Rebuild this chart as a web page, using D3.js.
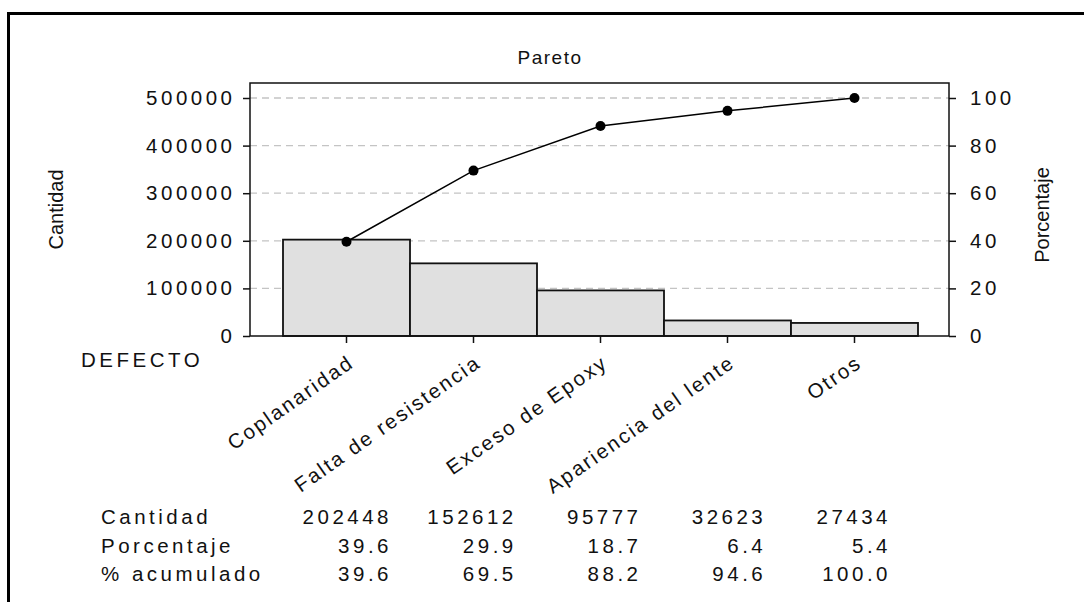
<!DOCTYPE html>
<html><head><meta charset="utf-8">
<script src="https://cdn.jsdelivr.net/npm/d3@7"></script>
<style>
body{margin:0;background:#fff;overflow:hidden;}
text{font-family:"Liberation Sans",Arial,sans-serif;fill:#111;}
</style></head><body>
<svg id="c" width="1084" height="602"></svg>
<script>
const title = "Pareto";
const categories = ["Coplanaridad","Falta de resistencia","Exceso de Epoxy","Apariencia del lente","Otros"];
const counts = [202448,152612,95777,32623,27434];
const percents = [39.6,29.9,18.7,6.4,5.4];
const cumPercents = [39.6,69.5,88.2,94.6,100.0];
const countTicks = [0,100000,200000,300000,400000,500000];
const pctTicks = [0,20,40,60,80,100];
const tableRows = ["Cantidad","Porcentaje","% acumulado"];
const xTitle = "DEFECTO";
const yLeftTitle = "Cantidad";
const yRightTitle = "Porcentaje";

const svg = d3.select("#c");
const L = 250, R = 949, T = 83, B = 336;
const LS = 3.5, FS = 20.5;

// frame
svg.append("path").attr("d","M8.5,610V13.5H1090").attr("fill","none").attr("stroke","#000").attr("stroke-width",3);

const x = d3.scaleBand().domain(categories).range([283,918]).padding(0);
const yC = d3.scaleLinear().domain([0,500000]).range([B,98]);
const yP = d3.scaleLinear().domain([0,100]).range([B,98]);
const col = d3.scalePoint().domain(categories).range([388.5,887.5]);

// gridlines
svg.append("g").selectAll("line").data(countTicks.filter(d=>d>0)).join("line")
  .attr("x1",L).attr("x2",R).attr("y1",d=>yC(d)).attr("y2",d=>yC(d))
  .attr("stroke","#c4c4c4").attr("stroke-width",1.3).attr("stroke-dasharray","7,5");

// bars
svg.append("g").selectAll("rect").data(categories).join("rect")
  .attr("x",d=>x(d)).attr("width",x.bandwidth())
  .attr("y",(d,i)=>yC(counts[i])).attr("height",(d,i)=>B-yC(counts[i]))
  .attr("fill","#e0e0e0").attr("stroke","#111").attr("stroke-width",1.8);

// plot frame
svg.append("rect").attr("x",L).attr("y",T).attr("width",R-L).attr("height",B-T)
  .attr("fill","none").attr("stroke","#111").attr("stroke-width",1.5);

function styleAxis(g){
  g.select(".domain").remove();
  g.selectAll(".tick line").attr("stroke","#111").attr("stroke-width",1.5);
  g.selectAll("text").attr("font-size",FS).attr("letter-spacing",LS+"px")
    .attr("font-family",'"Liberation Sans",Arial,sans-serif').attr("fill","#111");
}
const gl = svg.append("g").attr("transform",`translate(${L},0)`)
  .call(d3.axisLeft(yC).tickValues(countTicks).tickSize(7).tickPadding(7.5).tickFormat(d3.format("d")));
styleAxis(gl);
const gr = svg.append("g").attr("transform",`translate(${R},0)`)
  .call(d3.axisRight(yP).tickValues(pctTicks).tickSize(7).tickPadding(14).tickFormat(d3.format("d")));
styleAxis(gr);
const gb = svg.append("g").attr("transform",`translate(0,${B})`)
  .call(d3.axisBottom(x).tickSize(7).tickFormat(""));
styleAxis(gb);

// category labels
svg.append("g").selectAll("text").data(categories).join("text")
  .attr("transform",d=>`translate(${x(d)+x.bandwidth()/2+7},367) rotate(-35)`)
  .attr("x",2.2).attr("text-anchor","end").attr("font-size",FS).attr("letter-spacing","2.2px")
  .text(d=>d);

// cumulative line
const line = d3.line().x((d,i)=>x(categories[i])+x.bandwidth()/2).y(d=>yP(d));
svg.append("path").datum(cumPercents).attr("d",line).attr("fill","none").attr("stroke","#000").attr("stroke-width",1.5);
svg.append("g").selectAll("circle").data(cumPercents).join("circle")
  .attr("cx",(d,i)=>x(categories[i])+x.bandwidth()/2).attr("cy",d=>yP(d)).attr("r",5).attr("fill","#000");

// titles
svg.append("text").attr("x",549+1).attr("y",64).attr("text-anchor","middle")
  .attr("font-size",19).attr("letter-spacing","1.5px").text(title);
svg.append("text").attr("transform","translate(63,209.5) rotate(-90)").attr("text-anchor","middle")
  .attr("font-size",20).text(yLeftTitle);
svg.append("text").attr("transform","translate(1049,215) rotate(-90)").attr("text-anchor","middle")
  .attr("font-size",20).text(yRightTitle);
svg.append("text").attr("x",81).attr("y",366.5).attr("font-size",FS).attr("letter-spacing",LS+"px").text(xTitle);

// table
const rowY = [523.5, 553, 581];
const rowVals = [counts.map(d=>d3.format("d")(d)), percents.map(d=>d.toFixed(1)), cumPercents.map(d=>d.toFixed(1))];
tableRows.forEach((r,ri)=>{
  svg.append("text").attr("x",101).attr("y",rowY[ri]).attr("font-size",FS).attr("letter-spacing",LS+"px").text(r);
  svg.append("g").selectAll("text").data(categories).join("text")
    .attr("x",d=>col(d)+LS).attr("y",rowY[ri]).attr("text-anchor","end")
    .attr("font-size",FS).attr("letter-spacing",LS+"px").text((d,i)=>rowVals[ri][i]);
});
</script></body></html>
